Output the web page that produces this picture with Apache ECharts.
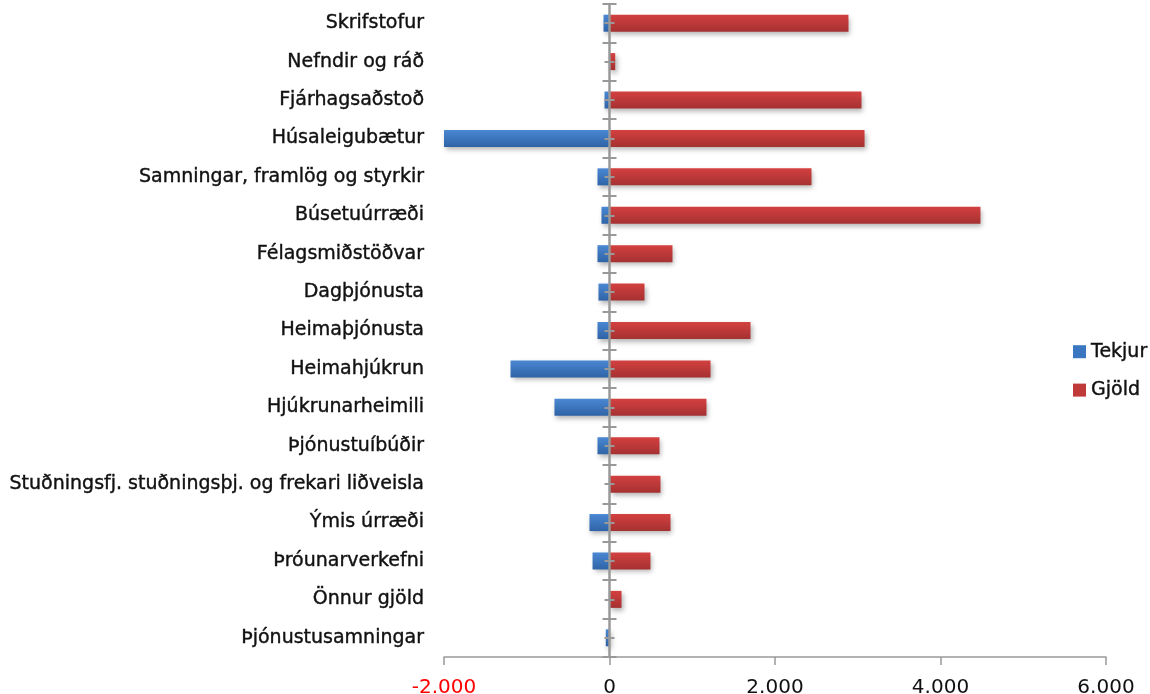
<!DOCTYPE html>
<html>
<head>
<meta charset="utf-8">
<script src="https://cdn.jsdelivr.net/npm/echarts@6/dist/echarts.min.js"></script>
<style>
html,body{margin:0;padding:0;background:#fff;}
#chart{width:1150px;height:694px;}
</style>
</head>
<body>
<div id="chart"></div>
<script>
var categories = ["Skrifstofur","Nefndir og ráð","Fjárhagsaðstoð","Húsaleigubætur","Samningar, framlög og styrkir","Búsetuúrræði","Félagsmiðstöðvar","Dagþjónusta","Heimaþjónusta","Heimahjúkrun","Hjúkrunarheimili","Þjónustuíbúðir","Stuðningsfj. stuðningsþj. og frekari liðveisla","Ýmis úrræði","Þróunarverkefni","Önnur gjöld","Þjónustusamningar"];
var tekjur = [-72,-5,-60,-2000,-145,-97,-145,-133,-145,-1196,-665,-145,0,-242,-205,0,-45];
var gjold = [2888,69,3045,3082,2441,4483,761,423,1704,1221,1172,604,616,737,495,145,0];
var xTicks = {min:-2000, max:6000, interval:2000};

var chart = echarts.init(document.getElementById('chart'), null, {renderer:'canvas'});
var font = 'DejaVu Sans';
var axisGray = '#999999';
var gridLeft = 444, gridRight = 44, W = 1150;
// offset that puts a left-positioned y axis on the x=0 value
var zeroOffset = -((0 - xTicks.min) / (xTicks.max - xTicks.min)) * (W - gridLeft - gridRight);
function catAxis(extra){
  var base = {type:'category', data:categories, inverse:true, position:'left', z:10, offset:zeroOffset,
    axisLabel:{show:false}, axisLine:{show:false, onZero:false},
    axisTick:{show:false}, splitLine:{show:false}};
  for (var k in extra) base[k]=extra[k];
  return base;
}
var option = {
  animation:false,
  backgroundColor:'#fff',
  grid:{left:gridLeft, right:gridRight, top:4, bottom:37, containLabel:false, outerBoundsMode:'none'},
  legend:{
    orient:'vertical', left:1068, top:337, itemWidth:13, itemHeight:13, itemGap:19,
    icon:'rect',
    textStyle:{fontFamily:font, fontSize:19, color:'#111', textBorderColor:'#111', textBorderWidth:0.4},
    data:[
      {name:'Tekjur', itemStyle:{color:'#3b76c0'}},
      {name:'Gjöld', itemStyle:{color:'#c03a3a'}}
    ]
  },
  xAxis:{
    type:'value', min:xTicks.min, max:xTicks.max, interval:xTicks.interval,
    axisLine:{show:true, lineStyle:{color:axisGray, width:1.5}},
    axisTick:{show:true, length:8, lineStyle:{color:axisGray, width:1.5}},
    splitLine:{show:false},
    axisLabel:{margin:21, fontFamily:font, fontSize:20, color:function(v){return v<0?'#ff0000':'#111';},
      formatter:function(v){return String(v).replace(/\B(?=(\d{3})+(?!\d))/g,'.');}}
  },
  yAxis:[
    catAxis({z:0, offset:0, axisLabel:{show:true, margin:20, fontFamily:font, fontSize:19, color:'#111',
      textBorderColor:'#111', textBorderWidth:0.4}}),
    catAxis({axisLine:{show:true, onZero:false, lineStyle:{color:axisGray, width:2.5}},
      axisTick:{show:true, inside:false, length:7, lineStyle:{color:axisGray, width:2}}}),
    catAxis({axisTick:{show:true, inside:true, length:7, lineStyle:{color:axisGray, width:2}}}),
    catAxis({axisTick:{show:true, inside:false, alignWithLabel:true, length:5, lineStyle:{color:axisGray, width:2}}}),
    catAxis({axisTick:{show:true, inside:true, alignWithLabel:true, length:5, lineStyle:{color:axisGray, width:2}}})
  ],
  series:[
    {name:'Tekjur', type:'bar', data:tekjur, barWidth:17, barGap:'-100%', yAxisIndex:0, z:1,
      itemStyle:{color:new echarts.graphic.LinearGradient(0,0,0,1,[{offset:0,color:'#4a88d2'},{offset:1,color:'#2f63a6'}]),
        shadowColor:'rgba(0,0,0,0.3)', shadowBlur:5, shadowOffsetX:2, shadowOffsetY:3}},
    {name:'Gjöld', type:'bar', data:gjold, barWidth:17, barGap:'-100%', yAxisIndex:0, z:1,
      itemStyle:{color:new echarts.graphic.LinearGradient(0,0,0,1,[{offset:0,color:'#d44040'},{offset:1,color:'#a53131'}]),
        shadowColor:'rgba(0,0,0,0.3)', shadowBlur:5, shadowOffsetX:2, shadowOffsetY:3}}
  ]
};
chart.setOption(option);
</script>
</body>
</html>
